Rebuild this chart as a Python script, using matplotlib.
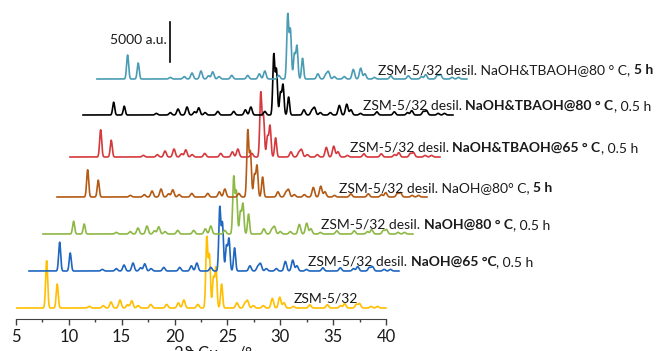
import numpy as np
import matplotlib
matplotlib.use("Agg")
import matplotlib.pyplot as plt

plt.rcParams['font.family'] = ['Lato', 'DejaVu Sans']
plt.rcParams['mathtext.fontset'] = 'custom'
plt.rcParams['mathtext.rm'] = 'Lato'
plt.rcParams['mathtext.it'] = 'Lato:italic'

# strong reflections of the MFI pattern (2theta, deg) and heights per sample (a.u.)
main_pos = [7.90, 8.90, 23.05, 23.30, 23.68, 23.92, 24.45]
h_parent = [5900, 3000, 8750, 6500, 3750, 5000, 3000]
h_naoh65 = [3600, 2250, 7900, 5900, 3100, 4000, 2900]
h_naoh80 = [1600, 1250, 7100, 5250, 2750, 3750, 2500]
h_naoh80_5h = [3400, 2100, 8250, 5500, 2750, 3900, 2500]
h_tba65 = [3400, 2100, 8000, 5100, 2500, 3900, 2400]
h_tba80 = [1600, 1100, 7500, 5600, 2750, 3750, 2250]
h_tba80_5h = [3000, 2000, 8000, 6100, 3100, 4100, 2600]

# weak reflections (shared by all samples)
minor_pos = [11.94, 13.26, 13.99, 14.84, 15.55, 15.95, 16.55, 17.75, 19.26,
             20.36, 20.88, 22.20, 25.90, 26.65, 26.90, 27.45, 28.40, 29.25,
             29.95, 30.35, 31.25, 32.80, 34.45, 35.70, 36.10, 37.20, 37.50,
             38.60, 39.20]
minor_h = [200, 300, 750, 1000, 400, 900, 300, 450, 450,
           650, 1000, 450, 650, 550, 900, 300, 300, 1200,
           1350, 650, 200, 400, 400, 300, 550, 450, 550,
           200, 200]

samples = [h_parent, h_naoh65, h_naoh80, h_naoh80_5h, h_tba65, h_tba80, h_tba80_5h]
x_shift = [0.0, 1.23, 2.55, 3.88, 5.11, 6.34, 7.66]
y_shift = [0, 4625, 9250, 13875, 18875, 24125, 28625]
colors = ['#FFBF00', '#1F66C0', '#8DB845', '#B35A14', '#D6393D', '#000000', '#4A9CB4']

labels = [
    [("ZSM-5/32", 'normal')],
    [("ZSM-5/32 desil. ", 'normal'), ("NaOH@65 °C", 'bold'), (", 0.5 h", 'normal')],
    [("ZSM-5/32 desil. ", 'normal'), ("NaOH@80 ° C", 'bold'), (", 0.5 h", 'normal')],
    [("ZSM-5/32 desil. NaOH@80° C, ", 'normal'), ("5 h", 'bold')],
    [("ZSM-5/32 desil. ", 'normal'), ("NaOH&TBAOH@65 ° C", 'bold'), (", 0.5 h", 'normal')],
    [("ZSM-5/32 desil. ", 'normal'), ("NaOH&TBAOH@80 ° C", 'bold'), (", 0.5 h", 'normal')],
    [("ZSM-5/32 desil. NaOH&TBAOH@80 ° C, ", 'normal'), ("5 h", 'bold')],
]
label_x = [31.3, 32.63, 33.86, 35.56, 36.59, 37.82, 39.25]

fig = plt.figure(figsize=(6.61, 3.51), dpi=100)
ax = fig.add_axes([16 / 661, 32 / 351, 640 / 661, 314 / 351])

two_theta = np.arange(5, 40.0001, 0.02)
for i, heights in enumerate(samples):
    y = np.zeros_like(two_theta)
    for p, h in zip(main_pos, heights):
        y += h * np.exp(-0.5 * ((two_theta - p) / 0.095) ** 2)
    for p, h in zip(minor_pos, minor_h):
        y += h * np.exp(-0.5 * ((two_theta - p) / 0.12) ** 2)
    ax.plot(two_theta + x_shift[i], y + y_shift[i], color=colors[i], lw=1.2)

    t = None
    for s, w in labels[i]:
        if t is None:
            t = ax.text(label_x[i], y_shift[i] + 650, s, fontsize=10, fontweight=w,
                        va='baseline', ha='left', color='#1a1a1a')
        else:
            t = ax.annotate(s, xy=(1, 0), xycoords=t, fontsize=10, fontweight=w,
                            va='bottom', ha='left', color='#1a1a1a')

# scale bar
ax.plot([19.57, 19.57], [30750, 35750], color='black', lw=1.2)
ax.text(19.28, 33500, "5000 a.u.", fontsize=10, ha='right', va='center', color='#1a1a1a')

ax.set_xlim(5, 5 + 640 / 10.57)
ax.set_ylim(-1375, 37875)
for s in ['top', 'right', 'left']:
    ax.spines[s].set_visible(False)
ax.spines['bottom'].set_bounds(5, 40)
ax.spines['bottom'].set_color('#404040')
ax.set_yticks([])
ax.set_xticks(np.arange(5, 41, 5))
ax.set_xticks(np.arange(7.5, 40, 5), minor=True)
ax.tick_params(axis='x', which='major', direction='out', length=4, width=1,
               colors='#404040', labelsize=12, labelcolor='#1a1a1a', pad=3.5)
ax.tick_params(axis='x', which='minor', direction='out', length=2.5, width=1, colors='#404040')

fig.text(213 / 661, 1 - 344 / 351, r"2ϑ Cu$_{\mathrm{K\alpha}}$ /°", fontsize=12,
         ha='center', va='top', color='#1a1a1a')

fig.savefig("out.png", dpi=100)
